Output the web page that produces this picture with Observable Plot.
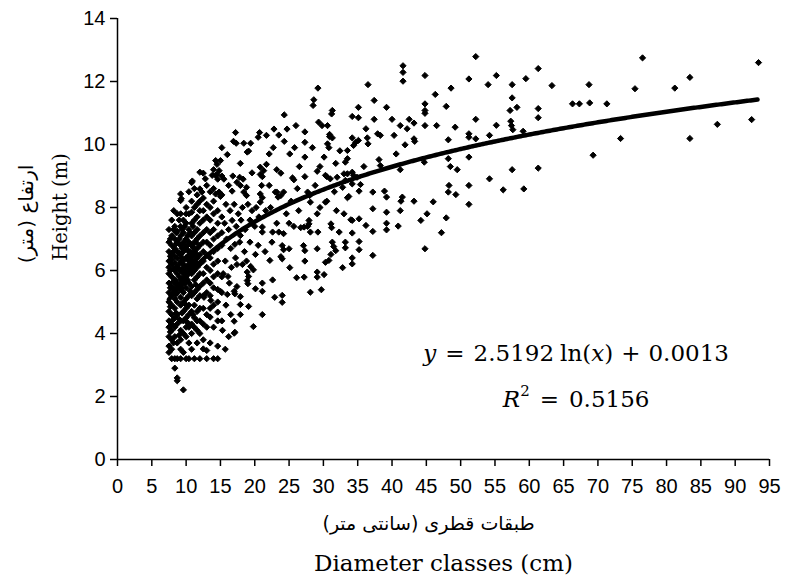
<!DOCTYPE html>
<html><head><meta charset="utf-8">
<script src="https://cdn.jsdelivr.net/npm/d3@7"></script>
<script src="https://cdn.jsdelivr.net/npm/@observablehq/plot@0.6"></script>
<style>body{margin:0;background:#fff}#chart svg{display:block}</style>
</head><body><div id="chart"></div>
<script>
// ---- Data ----
const xTicks = [0,5,10,15,20,25,30,35,40,45,50,55,60,65,70,75,80,85,90,95];
const yTicks = [0,2,4,6,8,10,12,14];
const xLabelFa = "طبقات قطری (سانتی متر)";
const xLabelEn = "Diameter classes (cm)";
const yLabelFa = "ارتفاع (متر)";
const yLabelEn = "Height (m)";
const coefA = 2.5192, coefB = 0.0013, r2 = "0.5156";

// dense cluster of small trees: [diameter, [heights...]]
const clusterColumns = [
  [7.5,  [7.3,6.9,6.6,6.3,6.1,5.9,5.6,5.3,5.0,4.7,4.4,4.2,3.9,3.6,3.4]],
  [7.7,  [7.0,6.45,6.0,5.45,4.85,4.05]],
  [7.9,  [7.6,7.1,6.8,6.5,6.35,6.2,5.8,5.5,5.2,4.9,4.6,4.3,4.1,3.8,3.5,3.2]],
  [8.15, [7.3,6.6,6.05,5.65,5.35,4.45,3.7]],
  [8.35, [7.4,7.0,6.7,6.45,6.25,6.0,5.7,5.4,5.1,4.8,4.5,4.2,3.9,3.2,2.9]],
  [8.55, [7.2,6.85,6.1,5.55,5.25,4.65]],
  [8.7,  [7.8,7.25,6.9,6.6,6.4,6.1,5.9,5.6,5.3,5.0,4.6,4.3,3.7,3.2,2.59,2.5]],
  [9.0,  [7.6,7.0,6.55,6.2,5.8,5.5,4.45,3.95]],
  [9.2,  [8.43,8.22,7.8,7.4,7.1,6.8,6.5,6.3,6.0,5.7,5.4,5.15,4.9,4.4,4.1,3.8,3.5,3.2]],
  [9.4,  [7.3,6.7,6.4,6.05,5.75,5.45,4.65]],
  [9.6,  [7.6,7.2,6.9,6.6,6.2,5.9,5.6,5.3,5.0,4.7,4.4,4.0,3.4,2.21]],
  [9.8,  [7.4,6.8,6.35,5.95,5.6,4.95]],
  [10.0, [8.0,7.8,7.5,7.0,6.7,6.4,6.1,5.8,5.45,5.1,4.8,4.5,4.2,3.9,3.2]],
  [10.2, [7.1,6.8,6.45,6.15,5.7,4.35]],
  [10.4, [8.5,7.8,7.3,6.9,6.6,6.3,6.0,5.6,5.2,4.9,4.6,4.2,3.7,3.2]],
  [10.6, [7.2,6.6,6.35,6.05,5.35]],
  [10.8, [8.79,8.2,7.85,7.5,7.1,6.8,6.5,6.2,5.9,5.5,5.2,4.7,4.3,4.0,3.5]],
  [11.0, [7.4,6.75,6.45,6.15,4.6]],
  [11.2, [8.6,8.0,7.6,7.2,6.9,6.6,6.3,6.0,5.7,5.3,4.9,4.5,4.2,3.2]],
  [11.4, [6.9,6.55,6.25,5.55]],
  [11.6, [8.4,8.1,7.7,7.3,7.0,6.7,6.4,6.1,5.8,5.4,5.1,4.7,4.4,4.1,3.7]],
  [12.0, [8.2,7.9,7.5,7.1,6.8,6.5,6.2,5.9,5.5,5.2,4.8,4.4,4.0,3.2]],
  [12.5, [8.3,7.9,7.6,7.2,6.9,6.6,6.3,5.9,5.6,5.2,4.8,4.3,3.8,3.51]],
  [13.0, [8.7,8.1,7.7,7.3,6.9,6.5,6.1,5.7,5.3,4.6,4.2,3.46,3.2]],
  [13.5, [8.5,8.0,7.6,7.2,6.8,6.4,6.0,5.6,5.2,4.8,4.52,3.7]],
  [14.0, [8.6,8.2,7.8,7.3,7.0,6.6,6.2,5.8,4.9,4.2,3.2]],
  [14.6, [8.9,7.9,7.5,7.1,6.7,6.3,5.9,5.4,5.0,4.68,4.4,3.6,3.2]],
  [15.2, [9.9,9.0,8.4,7.7,7.2,6.8,5.8,5.3,4.4]]
];

// scattered trees, left part (diameter < 35 cm): [diameter, height]
const scatterLeft = [
  [28.6,11.42],[28.5,11.24],[31.3,11.08],[31.2,10.97],[24.3,10.94],[17.2,10.38],[20.7,10.38],[21.7,10.29],
  [22.8,10.49],[24.7,10.49],[27.3,10.4],[29.3,10.71],[29.8,10.6],[30.6,10.6],[30.9,10.32],[31.3,10.21],
  [17.3,10.04],[18.4,10.04],[19.4,10.04],[19.1,9.79],[20.5,10.23],[24.3,10.1],[27.3,10.07],[30.6,10.02],
  [22.1,9.7],[25.1,9.7],[27.3,9.6],[30.1,9.6],[33.5,9.81],[33.5,9.55],[16.0,9.68],[15.0,9.49],[14.5,9.37],
  [14.0,9.2],[13.8,9.02],[12.5,9.09],[12.8,8.91],[12.0,9.12],[10.9,8.84],[12.0,8.59],[12.3,8.49],[9.3,8.28],
  [8.2,7.9],[14.8,8.49],[15.0,8.35],[14.3,8.43],[16.7,8.52],[20.8,9.28],[21.3,9.17],[21.7,9.37],[23.2,9.2],
  [25.7,8.88],[20.8,8.43],[21.1,8.31],[20.8,8.17],[23.0,8.49],[23.8,8.38],[33.7,8.35],[14.3,9.49],[14.8,9.17],
  [14.3,9.02],[18.9,9.76],[29.2,11.79],[30.9,10.25],[30.8,9.9],[30.3,9.02],[31.0,8.91],[33.0,9.07],[32.8,8.64],
  [33.2,9.44],[27.9,8.43],[28.1,8.17],[30.3,8.17],[27.2,7.38],[27.9,7.48],
  [14.5,9.05],[17.8,8.96],[20.8,9.05],[21.1,8.98],[23.8,9.09],[25.5,8.94],[27.3,8.98],[29.1,9.15],[30.5,8.98],
  [32.0,8.96],[33.5,9.07],[33.2,8.86],[34.9,8.96],[17.9,8.7],[18.8,8.64],[18.4,8.49],[18.8,8.38],[21.0,8.7],
  [22.1,8.7],[23.2,8.49],[24.2,8.49],[23.4,8.33],[27.7,8.49],[28.0,8.38],[30.5,8.2],[33.5,8.31],[29.1,7.8],
  [25.0,7.5],[23.2,7.5],[25.7,7.4],[26.7,7.36],[27.7,7.4],[27.9,7.59],[28.1,7.22],[29.2,7.22],[31.1,7.48],
  [31.2,7.36],[34.0,7.61],[32.3,7.22],[22.6,7.22],[23.5,7.22],[24.2,7.17],[21.1,7.38],[21.1,7.22],[16.7,7.59],
  [17.9,7.11],[17.1,6.83],[24.0,6.79],[24.2,6.66],[25.0,6.69],[27.1,6.79],[27.3,6.63],[29.1,6.69],[31.3,6.9],
  [31.5,6.76],[31.8,6.63],[31.1,6.51],[33.2,6.9],[33.2,6.72],[32.8,6.09],[30.8,6.32],[30.3,6.26],[20.1,6.51],
  [22.2,6.32],[23.8,6.44],[24.0,6.37],[25.1,6.09],[27.3,6.3],[26.1,5.77],[27.2,5.79],[29.1,5.95],[29.1,5.79],
  [30.1,5.87],[28.1,5.31],[29.7,5.39],[16.1,5.81],[17.4,6.19],[18.2,6.19],[19.4,6.13],[19.8,6.02],[19.1,5.81],
  [19.0,5.58],[22.6,5.7],[20.1,5.42],[21.1,5.34],[21.1,5.6],[22.9,5.15],[24.0,5.21],[24.0,4.99],[21.1,4.6],
  [19.8,4.22],[17.0,4.39],[17.0,4.01],[17.9,4.6],[19.1,4.86],[17.9,4.92],[14.0,5.45],[15.0,5.34],[16.0,5.24],
  [17.0,5.34],[17.4,5.49],[17.9,5.17],[12.6,5.15],[13.6,5.05],[18.9,5.95],[18.9,5.68],[17.1,5.26],[17.1,4.04],
  [15.5,8.9],[16.2,8.7],[16.8,9.0],[17.4,8.8],[15.8,8.1],[16.4,7.9],[17.0,8.1],[17.6,7.8],[18.2,8.0],[19.0,8.1],
  [19.6,7.9],[20.2,8.0],[15.6,7.5],[16.2,7.3],[17.3,7.4],[18.0,7.6],[18.6,7.3],[19.3,7.6],[20.0,7.4],[20.6,7.7],
  [21.6,7.9],[22.3,8.0],[15.9,7.0],[16.5,6.7],[17.8,6.9],[18.5,6.6],[19.3,6.9],[20.5,6.8],[21.5,6.6],[22.5,6.9],
  [15.7,6.3],[16.6,6.1],[17.2,6.4],[18.8,6.3],[16.3,5.6],[15.4,5.9],[15.8,4.9],[16.5,4.6],[15.3,4.1],[16.2,3.9],
  [15.7,3.5],[16.9,10.1],[17.9,9.4],[19.6,9.1],[18.3,8.9],[22.7,9.9],[23.5,10.3],[26.0,10.6],[25.8,9.9],[26.5,9.3],
  [28.4,9.9],[29.5,9.3],[31.8,9.4],[32.4,9.8],[26.2,8.6],[28.8,8.7],[31.6,8.5],[25.3,8.2],[29.5,8.0],[31.9,7.9],
  [26.4,7.9],[24.6,7.8],[33.0,7.8]
];

// scattered trees, middle part (34-62 cm)
const scatterMid = [
  [52.2,12.79],[41.6,12.5],[41.6,12.29],[41.6,12.01],[44.8,12.19],[36.5,11.9],[51.2,12.08],[55.2,12.19],[54.0,11.9],
  [57.5,11.9],[59.5,12.09],[37.4,11.4],[35.1,11.18],[34.2,10.89],[35.1,10.85],[39.2,11.18],[46.3,11.59],[48.6,11.79],
  [44.8,11.29],[44.8,11.08],[44.8,10.99],[47.9,11.21],[57.5,11.48],[58.2,11.18],[57.2,11.08],[37.4,10.8],[40.0,10.8],
  [42.5,10.8],[43.2,10.68],[41.2,10.6],[42.2,10.5],[44.8,10.6],[46.5,10.6],[52.2,10.8],[55.2,10.61],[49.2,10.55],
  [57.3,10.74],[57.4,10.6],[57.6,10.47],[59.1,10.42],[36.2,10.5],[34.2,10.21],[35.1,10.13],[36.4,10.21],[36.5,10.02],
  [34.7,10.07],[34.4,9.97],[37.9,10.34],[38.3,10.29],[40.3,10.29],[43.2,10.18],[43.3,10.1],[41.9,9.99],[48.2,10.15],
  [51.2,10.34],[51.2,10.23],[52.2,10.18],[54.2,10.29],[40.6,9.7],[38.1,9.52],[38.3,9.33],[35.9,9.3],[34.2,9.12],
  [34.4,9.02],[34.2,8.75],[41.2,9.2],[44.7,9.44],[48.2,9.55],[48.5,9.3],[49.5,9.2],[51.2,9.6],[54.2,8.91],[57.5,9.2],
  [56.2,8.56],[59.2,8.59],[35.4,8.73],[35.2,8.52],[37.2,8.49],[38.9,8.52],[39.2,8.33],[41.5,8.33],[41.3,8.2],
  [43.2,8.2],[46.0,8.18],[48.3,8.7],[48.2,8.49],[49.3,8.41],[51.2,8.7],[51.2,8.1],[37.2,7.96],[39.2,7.85],[41.2,7.9],
  [45.1,7.8],[44.2,7.59],[47.9,7.67],[47.2,7.2],[44.8,6.69],[34.2,7.59],[35.2,7.64],[36.2,7.43],[37.2,7.24],
  [39.2,7.5],[39.2,7.29],[40.9,7.41],[34.2,7.19],[35.2,6.92],[35.2,6.66],[37.2,6.48],[34.2,6.4],[34.2,6.21]
];

// scattered trees, right part (> 60 cm)
const scatterRight = [
  [61.3,12.41],[63.3,11.87],[68.7,11.9],[76.5,12.75],[75.4,11.77],[81.2,11.79],[83.4,12.13],[93.4,12.6],
  [61.3,11.14],[61.3,10.85],[66.3,11.29],[67.3,11.29],[68.8,11.32],[71.3,11.29],[73.3,10.19],[69.3,9.66],
  [61.3,9.25],[83.4,10.19],[87.4,10.64],[92.4,10.79]
];

// annotation placement (data units)
const eqPos = [66.9, 3.38], r2Pos = [66.9, 1.9];

// ---- Build ----
const points = [
  ...clusterColumns.flatMap(([d, hs]) => hs.map(h => [d, h])),
  ...scatterLeft, ...scatterMid, ...scatterRight
];
const xs = d3.extent(points, d => d[0]);
const trend = d3.range(xs[0], xs[1] + 0.001, 0.25).map(x => [x, coefA * Math.log(x) + coefB]);

const chart = Plot.plot({
  width: 787, height: 581,
  marginLeft: 117, marginRight: 18, marginTop: 18, marginBottom: 122,
  x: {domain: [0, 95]},
  y: {domain: [0, 14]},
  style: {fontFamily: "'Liberation Sans', Arial, sans-serif", fontSize: "20px", color: "black", background: "white"},
  marks: [
    Plot.axisX({ticks: xTicks, tickSize: 7, tickPadding: 12, label: null, strokeWidth: 1.5, fontSize: 20, fill: "black"}),
    Plot.axisY({ticks: yTicks, tickSize: 7, tickPadding: 5, label: null, strokeWidth: 1.5, fontSize: 20, fill: "black"}),
    Plot.ruleX([0], {strokeWidth: 1.5}),
    Plot.ruleY([0], {strokeWidth: 1.5}),
    Plot.dot(points, {x: d => d[0], y: d => d[1], symbol: "diamond2", r: 2.8, fill: "black", stroke: "black", strokeWidth: 1, strokeLinejoin: "round"}),
    Plot.line(trend, {x: d => d[0], y: d => d[1], stroke: "black", strokeWidth: 4.5, curve: "linear"}),
    Plot.text([xLabelFa], {frameAnchor: "bottom", dx: -15, dy: 64, textAnchor: "middle", lineAnchor: "middle", fontFamily: "'DejaVu Sans'", fontSize: 19, fill: "black"}),
    Plot.text([xLabelEn], {frameAnchor: "bottom", dy: 104, textAnchor: "middle", lineAnchor: "middle", fontFamily: "'DejaVu Serif'", fontSize: 23, fill: "black"}),
    Plot.text([yLabelFa], {frameAnchor: "left", dx: -91, dy: -25, rotate: -90, textAnchor: "middle", lineAnchor: "middle", fontFamily: "'DejaVu Sans'", fontSize: 20, fill: "black"}),
    Plot.text([yLabelEn], {frameAnchor: "left", dx: -57, dy: -32, rotate: -90, textAnchor: "middle", lineAnchor: "middle", fontFamily: "'DejaVu Serif'", fontSize: 19.5, fill: "black"})
  ]
});

const svg = d3.select(chart);

// equation annotation with italic variables
const sx = chart.scale("x"), sy = chart.scale("y");
const eq = svg.append("text")
  .attr("x", sx.apply(eqPos[0])).attr("y", sy.apply(eqPos[1]))
  .attr("text-anchor", "middle").attr("dominant-baseline", "central")
  .attr("font-family", "'DejaVu Serif', serif").attr("font-size", 23).attr("fill", "black");
[["y", true, 0], ["=", false, 9], ["2.5192", false, 9], ["ln(", false, 6], ["x", true, 0], [")", false, 0], ["+", false, 8], ["0.0013", false, 8]]
  .forEach(([t, it, dx]) => eq.append("tspan").attr("dx", dx).attr("font-style", it ? "italic" : "normal").text(t));
const r2t = svg.append("text")
  .attr("x", sx.apply(r2Pos[0])).attr("y", sy.apply(r2Pos[1]))
  .attr("text-anchor", "middle").attr("dominant-baseline", "central")
  .attr("font-family", "'DejaVu Serif', serif").attr("font-size", 23).attr("fill", "black");
r2t.append("tspan").attr("font-style", "italic").text("R");
r2t.append("tspan").attr("font-size", 15).attr("dy", -8).text("2");
r2t.append("tspan").attr("dx", 10).attr("dy", 8).text("=");
r2t.append("tspan").attr("dx", 10).text(r2);

document.getElementById("chart").appendChild(chart);
</script>
</body></html>
